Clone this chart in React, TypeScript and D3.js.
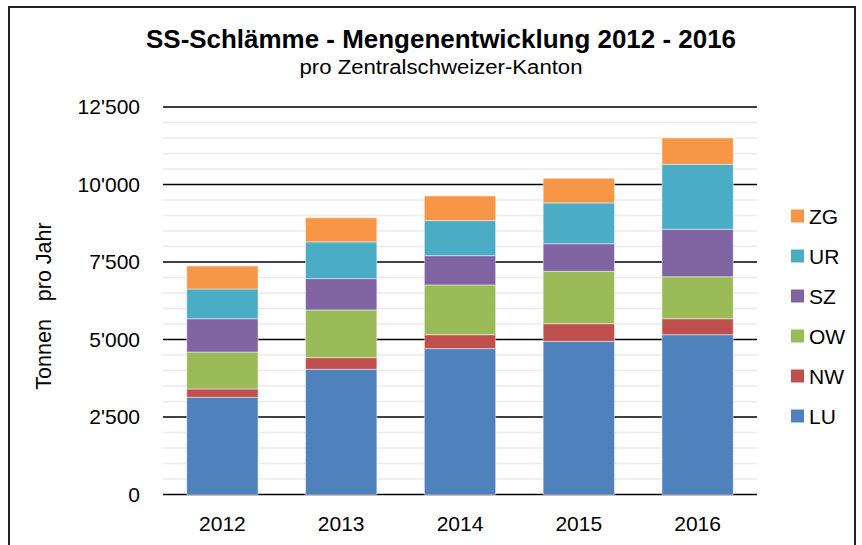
import React from "react";
import * as d3 from "d3";

const years = ["2012", "2013", "2014", "2015", "2016"];
const LU = [3135, 4040, 4705, 4940, 5155];
const NW = [270, 375, 450, 570, 515];
const OW = [1190, 1540, 1605, 1690, 1355];
const SZ = [1075, 1010, 945, 890, 1530];
const UR = [960, 1185, 1130, 1315, 2095];
const ZG = [740, 775, 795, 795, 850];
const seriesNames = ["LU", "NW", "OW", "SZ", "UR", "ZG"];
const seriesColors = ["#4F81BD", "#C0504D", "#9BBB59", "#8064A2", "#4BACC6", "#F79646"];
const majorTicks = [0, 2500, 5000, 7500, 10000, 12500];
const minorTicks = d3.range(0, 12501, 500);

const W = 862;
const H = 545;

export default function App() {
  const seriesVals = [LU, NW, OW, SZ, UR, ZG];
  const rows = years.map((y, i) => {
    const r: any = { year: y };
    seriesNames.forEach((s, k) => (r[s] = seriesVals[k][i]));
    return r;
  });
  const stacked = d3.stack().keys(seriesNames)(rows);

  const x = d3.scaleBand().domain(years).range([163, 757]).paddingInner(0.4).paddingOuter(0.2);
  const y = d3.scaleLinear().domain([0, 12500]).range([494.5, 107]);
  const fmt = (v: number) => d3.format(",")(v).replace(/,/g, "'");
  const font = "'Liberation Sans', Arial, sans-serif";

  return (
    <svg width={W} height={H} style={{ position: "absolute", left: 0, top: 0, background: "#fff" }} fontFamily={font}>
      <rect x={0} y={0} width={W} height={H} fill="#fff" />
      <rect x={9} y={7} width={846} height={580} fill="none" stroke="#222" strokeWidth={2} />
      <text x={441} y={48} textAnchor="middle" fontSize={25} fontWeight="bold" fill="#000" textLength={590} lengthAdjust="spacingAndGlyphs">
        SS-Schlämme - Mengenentwicklung 2012 - 2016
      </text>
      <text x={441} y={74} textAnchor="middle" fontSize={20} fill="#000" textLength={283} lengthAdjust="spacingAndGlyphs">
        pro Zentralschweizer-Kanton
      </text>
      {minorTicks.filter((t) => !majorTicks.includes(t)).map((t) => (
        <line key={"m" + t} x1={163} x2={757} y1={y(t)} y2={y(t)} stroke="#ebebeb" strokeWidth={1.5} />
      ))}
      {majorTicks.map((t) => (
        <line key={"M" + t} x1={163} x2={757} y1={y(t)} y2={y(t)} stroke="#000" strokeWidth={1.6} />
      ))}
      {majorTicks.map((t) => (
        <text key={"t" + t} x={140} y={y(t)} dy="0.35em" textAnchor="end" fontSize={21} fill="#000">
          {fmt(t)}
        </text>
      ))}
      {stacked.map((s, k) =>
        s.map((d, i) => (
          <rect
            key={seriesNames[k] + i}
            x={x(years[i])}
            width={x.bandwidth()}
            y={y(d[1])}
            height={y(d[0]) - y(d[1])}
            fill={seriesColors[k]}
            stroke="rgba(255,255,255,0.45)"
            strokeWidth={1}
          />
        ))
      )}
      {years.map((yr) => (
        <text key={yr} x={(x(yr) as number) + x.bandwidth() / 2} y={531} textAnchor="middle" fontSize={21} fill="#000">
          {yr}
        </text>
      ))}
      <text transform={`translate(51,306) rotate(-90)`} textAnchor="middle" fontSize={21.5} fill="#000" style={{ whiteSpace: "pre" }}>
        {"Tonnen   pro Jahr"}
      </text>
      {seriesNames.slice().reverse().map((s, j) => {
        const k = seriesNames.length - 1 - j;
        const cy = 216 + j * 40;
        return (
          <g key={s}>
            <rect x={791} y={cy - 6.5} width={13} height={13} fill={seriesColors[k]} />
            <text x={809} y={cy} dy="0.36em" fontSize={21} fill="#000">
              {s}
            </text>
          </g>
        );
      })}
    </svg>
  );
}
